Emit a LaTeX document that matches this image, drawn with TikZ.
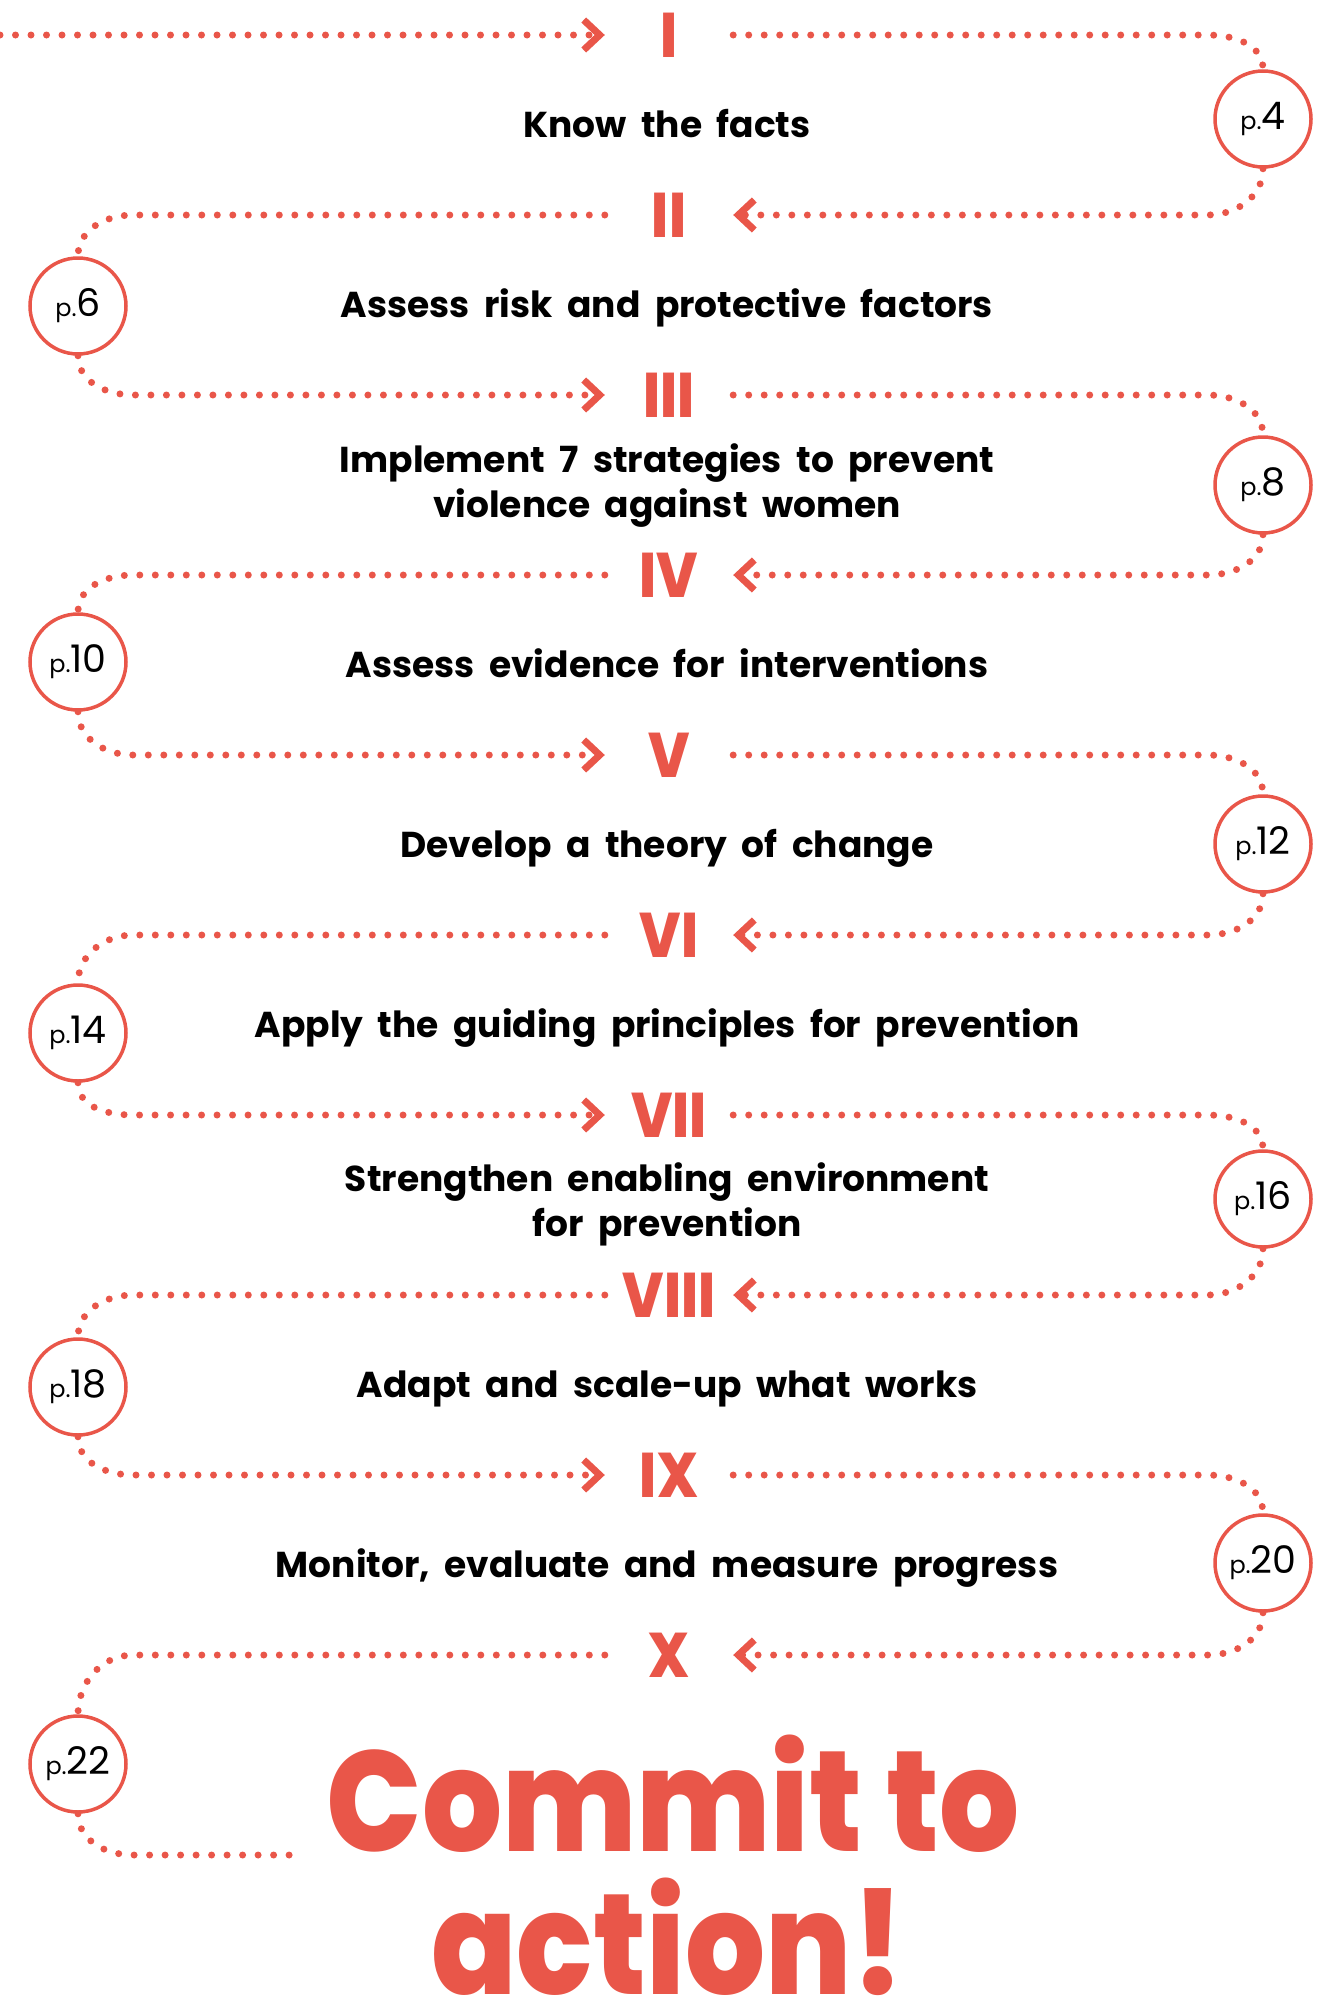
\documentclass[tikz,border=0pt]{standalone}
\usepackage{fontspec}
\setmainfont{Poppins}
\newfontfamily\stepfont{Poppins}[WordSpace=1.9]
\newfontfamily\heavyfont{Poppins ExtraBold}[FakeStretch=0.88]
\usetikzlibrary{arrows.meta, calc, positioning}
\definecolor{coral}{RGB}{233,86,73}

\begin{document}
\begin{tikzpicture}[x=1pt, y=1pt]
        \tikzstyle{every node}=[align=center]
        \tikzstyle{numeral}=[text=coral, font=\heavyfont\fontsize{63}{63}\selectfont, minimum width=128pt, inner sep=0pt]
        \tikzstyle{stepname}=[font=\stepfont\bfseries\fontsize{36}{45}\selectfont]
        \tikzstyle{pagering}=[circle, draw=coral, line width=3.5pt, minimum size=96pt, inner sep=0pt, font=\fontsize{38}{38}\selectfont]
        \tikzstyle{slogan}=[text=coral, font=\heavyfont\fontsize{143}{150}\selectfont, inner sep=0pt]
        \tikzstyle{trail}=[draw=coral, line width=7pt, line cap=round, dash pattern=on 0pt off 15.5pt]
        \tikzstyle{chev}=[-{Straight Barb[length=16pt, width=30pt, line width=7pt]}]

        \useasboundingbox (0,0) rectangle (1332,-2008);

        \node[numeral] at (669,-35) (n1) {I};
        \node[numeral] at (669,-215) (n2) {II};
        \node[numeral] at (669,-395) (n3) {III};
        \node[numeral] at (669,-575) (n4) {IV};
        \node[numeral] at (669,-755) (n5) {V};
        \node[numeral] at (669,-935) (n6) {VI};
        \node[numeral] at (669,-1115) (n7) {VII};
        \node[numeral] at (669,-1295) (n8) {VIII};
        \node[numeral] at (669,-1475) (n9) {IX};
        \node[numeral] at (669,-1655) (n10) {X};

        \node[stepname, anchor=base] at (667,-137) (s1) {Know the facts};
        \node[stepname, anchor=base] at (667,-317) (s2) {Assess risk and protective factors};
        \node[stepname] at (667,-486) (s3) {Implement 7 strategies to prevent\\violence against women};
        \node[stepname, anchor=base] at (667,-677) (s4) {Assess evidence for interventions};
        \node[stepname, anchor=base] at (667,-857) (s5) {Develop a theory of change};
        \node[stepname, anchor=base] at (667,-1037) (s6) {Apply the guiding principles for prevention};
        \node[stepname] at (667,-1204) (s7) {Strengthen enabling environment\\for prevention};
        \node[stepname, anchor=base] at (667,-1397) (s8) {Adapt and scale-up what works};
        \node[stepname, anchor=base] at (667,-1577) (s9) {Monitor, evaluate and measure progress};

        \node[pagering] at (1263,-119) (c1) {{\fontsize{24}{24}\selectfont p.}4};
        \node[pagering] at (78,-306) (c2) {{\fontsize{24}{24}\selectfont p.}6};
        \node[pagering] at (1263,-485) (c3) {{\fontsize{24}{24}\selectfont p.}8};
        \node[pagering] at (78,-662) (c4) {{\fontsize{24}{24}\selectfont p.}10};
        \node[pagering] at (1263,-844) (c5) {{\fontsize{24}{24}\selectfont p.}12};
        \node[pagering] at (78,-1033) (c6) {{\fontsize{24}{24}\selectfont p.}14};
        \node[pagering] at (1263,-1199) (c7) {{\fontsize{24}{24}\selectfont p.}16};
        \node[pagering] at (78,-1387) (c8) {{\fontsize{24}{24}\selectfont p.}18};
        \node[pagering] at (1263,-1563) (c9) {{\fontsize{24}{24}\selectfont p.}20};
        \node[pagering] at (78,-1764) (c10) {{\fontsize{24}{24}\selectfont p.}22};

        \node[slogan, anchor=base] at (673,-1851) (commit) {Commit to};
        \node[slogan, anchor=base] at (668,-1994) (action) {action!};

        \coordinate (start) at (0,-35);
        \draw[trail, chev] (start) -- (n1.west);

        \foreach \k/\m in {1/2, 3/4, 5/6, 7/8, 9/10} {
            \draw[trail] (n\k.east) -- ($(c\k.north |- n\k)+(-55,0)$) to[out=0, in=90] (c\k.north);
            \draw[trail, chev] (c\k.south) to[out=-90, in=0] ($(c\k.south |- n\m)+(-55,0)$) -- (n\m.east);
        }
        \foreach \k/\m in {2/3, 4/5, 6/7, 8/9} {
            \draw[trail] (n\k.west) -- ($(c\k.north |- n\k)+(55,0)$) to[out=180, in=90] (c\k.north);
            \draw[trail, chev] (c\k.south) to[out=-90, in=180] ($(c\k.south |- n\m)+(55,0)$) -- (n\m.west);
        }

        \draw[trail] (n10.west) -- ($(c10.north |- n10)+(55,0)$) to[out=180, in=90] (c10.north);
        \draw[trail] (c10.south) to[out=-90, in=180] ($(c10.south |- commit.base)+(55,-4)$) -- ($(commit.base west)+(-30,-4)$);
\end{tikzpicture}
\end{document}
